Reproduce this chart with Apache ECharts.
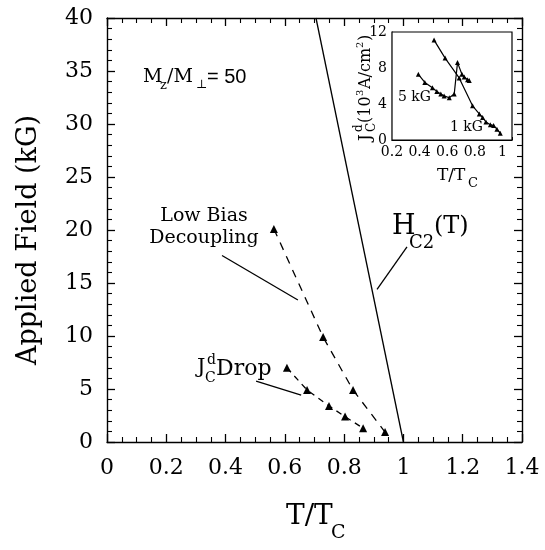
<!DOCTYPE html>
<html>
<head>
<meta charset="utf-8">
<script src="https://cdn.jsdelivr.net/npm/echarts@6/dist/echarts.min.js"></script>
<style>
html,body{margin:0;padding:0;background:#fff;}
#chart{width:545px;height:550px;}
</style>
</head>
<body>
<div id="chart"></div>
<script>
// ---- data ----
var xTicks = [0, 0.2, 0.4, 0.6, 0.8, 1, 1.2, 1.4];
var yTicks = [0, 5, 10, 15, 20, 25, 30, 35, 40];
// Hc2(T) line
var hc2T = [0.705, 1.0];
var hc2H = [40, 0];
// Low bias decoupling points
var lowBiasT = [0.563, 0.729, 0.830, 0.938];
var lowBiasH = [20.1, 9.9, 4.9, 0.94];
// Jc^d drop points
var jcDropT = [0.607, 0.675, 0.749, 0.803, 0.864];
var jcDropH = [7.0, 4.9, 3.4, 2.4, 1.3];
// leader lines of the annotations (data coordinates)
var leaderLowBiasT = [0.388, 0.644];
var leaderLowBiasH = [17.6, 13.4];
var leaderJcT = [0.503, 0.655];
var leaderJcH = [5.75, 4.43];
var leaderHc2T = [1.012, 0.911];
var leaderHc2H = [18.4, 14.4];
// inset: Jc^d (10^3 A/cm^2) vs T/Tc
var inset1kT = [0.505, 0.585, 0.687, 0.784, 0.833, 0.857, 0.881, 0.913, 0.937, 0.961, 0.985];
var inset1kJ = [11.1, 9.1, 6.9, 3.8, 2.9, 2.5, 2.0, 1.7, 1.6, 1.2, 0.75];
var inset5kT = [0.391, 0.438, 0.493, 0.525, 0.554, 0.578, 0.615, 0.651, 0.675, 0.707, 0.724, 0.748, 0.760];
var inset5kJ = [7.3, 6.4, 5.8, 5.4, 5.1, 4.9, 4.7, 5.1, 8.6, 7.3, 7.0, 6.7, 6.6];

function zip(a, b) { return a.map(function (v, i) { return [v, b[i]]; }); }

var SERIF = '"DejaVu Serif", "Liberation Serif", serif';
var BLACK = '#000';

function mainX(pos, showLabel) {
  return {
    type: 'value', gridIndex: 0, position: pos, min: 0, max: 1.4, interval: 0.2,
    axisLine: { show: true, onZero: false, lineStyle: { color: BLACK, width: 1.4 } },
    axisTick: { show: true, inside: true, length: 8, lineStyle: { color: BLACK, width: 1.3 } },
    minorTick: { show: true, splitNumber: 4, length: 5, lineStyle: { color: BLACK, width: 1.1 } },
    splitLine: { show: false },
    axisLabel: { show: showLabel, color: BLACK, fontFamily: SERIF, fontSize: 22, margin: 15,
      formatter: function (v) { return String(+v.toFixed(1)); } }
  };
}
function mainY(pos, showLabel) {
  return {
    type: 'value', gridIndex: 0, position: pos, min: 0, max: 40, interval: 5,
    axisLine: { show: true, onZero: false, lineStyle: { color: BLACK, width: 1.4 } },
    axisTick: { show: true, inside: true, length: 8, lineStyle: { color: BLACK, width: 1.3 } },
    minorTick: { show: true, splitNumber: 5, length: 5, lineStyle: { color: BLACK, width: 1.1 } },
    splitLine: { show: false },
    axisLabel: { show: showLabel, color: BLACK, fontFamily: SERIF, fontSize: 22, margin: 14 }
  };
}

var xAxes = [mainX('bottom', true), mainX('top', false), {
  type: 'value', gridIndex: 1, position: 'bottom', min: 0.2, max: 1.07, interval: 0.2,
  axisLine: { show: true, onZero: false, lineStyle: { color: BLACK, width: 1.2 } },
  axisTick: { show: true, inside: true, length: 3, lineStyle: { color: BLACK } },
  splitLine: { show: false },
  axisLabel: { color: BLACK, fontFamily: SERIF, fontSize: 14, margin: 5,
    formatter: function (v) { return v > 1.001 ? '' : String(+v.toFixed(1)); } }
}];

var yAxes = [mainY('left', true), mainY('right', false), {
  type: 'value', gridIndex: 1, position: 'left', min: 0, max: 12, interval: 4,
  axisLine: { show: true, onZero: false, lineStyle: { color: BLACK, width: 1.2 } },
  axisTick: { show: true, inside: true, length: 3, lineStyle: { color: BLACK } },
  splitLine: { show: false },
  axisLabel: { color: BLACK, fontFamily: SERIF, fontSize: 14, margin: 5 }
}];

function txt(x, y, s, size, extra) {
  var o = { type: 'text', x: x, y: y, z: 100, silent: true,
    style: { text: s, font: size + 'px ' + SERIF, fill: BLACK, align: 'left', verticalAlign: 'middle' } };
  if (extra) { for (var k in extra) o.style[k] = extra[k]; }
  return o;
}

var graphics = [
  // axis titles
  { type: 'text', x: 29, y: 240, rotation: Math.PI / 2, z: 100, silent: true,
    style: { text: 'Applied Field (kG)', font: '27px ' + SERIF, fill: BLACK, align: 'center', verticalAlign: 'middle' } },
  txt(286, 517, 'T/T', 28), txt(331, 533, 'C', 19),
  // M_z / M_perp = 50
  txt(143, 77, 'M', 19), txt(160, 86, 'z', 13), txt(167, 77, '/M', 19), txt(196, 85, '\u22a5', 12),
  txt(207, 77, '= 50', 20, { font: '20px "Liberation Sans", Arial, sans-serif' }),
  // Low Bias Decoupling
  txt(204, 216, 'Low Bias', 19, { align: 'center' }),
  txt(204, 238, 'Decoupling', 19, { align: 'center' }),
  // Hc2(T)
  txt(392, 227, 'H', 27), txt(409, 243, 'C2', 18), txt(434, 227, '(T)', 24),
  // Jc^d Drop
  txt(197, 368, 'J', 21), txt(207, 360, 'd', 14), txt(205, 378, 'C', 14), txt(216, 369, 'Drop', 22),
  // inset texts
  txt(398, 97, '5 kG', 14), txt(450, 127, '1 kG', 14),
  txt(437, 176, 'T/T', 17), txt(468, 184, 'C', 13),
  // inset y title (rotated)
  { type: 'group', x: 366, y: 141, rotation: Math.PI / 2, z: 100, silent: true,
    children: [
      txt(0, 0, 'J', 17), txt(9, -7, 'd', 12), txt(9, 6, 'C', 12),
      txt(18, 0, '(10', 16), txt(45, -6, '3', 10), txt(52, 0, 'A/cm', 16),
      txt(93, -6, '2', 10), txt(100, 0, ')', 16)
    ] }
];

var chart = echarts.init(document.getElementById('chart'), null, { renderer: 'canvas' });
chart.setOption({
  animation: false,
  backgroundColor: '#fff',
  grid: [
    { left: 107, top: 18, width: 415, height: 424 },
    { left: 392, top: 32, width: 120, height: 108, show: true, backgroundColor: '#fff', borderColor: BLACK, borderWidth: 1.2, z: 5 }
  ],
  xAxis: xAxes,
  yAxis: yAxes,
  series: [
    { type: 'line', xAxisIndex: 0, yAxisIndex: 0, data: zip(hc2T, hc2H), symbol: 'none',
      lineStyle: { color: BLACK, width: 1.3 } },
    { type: 'line', xAxisIndex: 0, yAxisIndex: 0, data: zip(lowBiasT, lowBiasH), symbol: 'triangle', symbolSize: 8,
      itemStyle: { color: BLACK }, lineStyle: { color: BLACK, width: 1.3, type: [8, 7] } },
    { type: 'line', xAxisIndex: 0, yAxisIndex: 0, data: zip(jcDropT, jcDropH), symbol: 'triangle', symbolSize: 8,
      itemStyle: { color: BLACK }, lineStyle: { color: BLACK, width: 1.3, type: [6, 5] } },
    { type: 'line', xAxisIndex: 0, yAxisIndex: 0, data: zip(leaderLowBiasT, leaderLowBiasH), symbol: 'none',
      lineStyle: { color: BLACK, width: 1.3 } },
    { type: 'line', xAxisIndex: 0, yAxisIndex: 0, data: zip(leaderJcT, leaderJcH), symbol: 'none',
      lineStyle: { color: BLACK, width: 1.3 } },
    { type: 'line', xAxisIndex: 0, yAxisIndex: 0, data: zip(leaderHc2T, leaderHc2H), symbol: 'none',
      lineStyle: { color: BLACK, width: 1.3 } },
    { type: 'line', xAxisIndex: 2, yAxisIndex: 2, data: zip(inset1kT, inset1kJ), symbol: 'triangle', symbolSize: 5,
      itemStyle: { color: BLACK }, lineStyle: { color: BLACK, width: 1.2 }, z: 6 },
    { type: 'line', xAxisIndex: 2, yAxisIndex: 2, data: zip(inset5kT, inset5kJ), symbol: 'triangle', symbolSize: 5,
      itemStyle: { color: BLACK }, lineStyle: { color: BLACK, width: 1.2 }, z: 6 }
  ],
  graphic: graphics
});
</script>
</body>
</html>
